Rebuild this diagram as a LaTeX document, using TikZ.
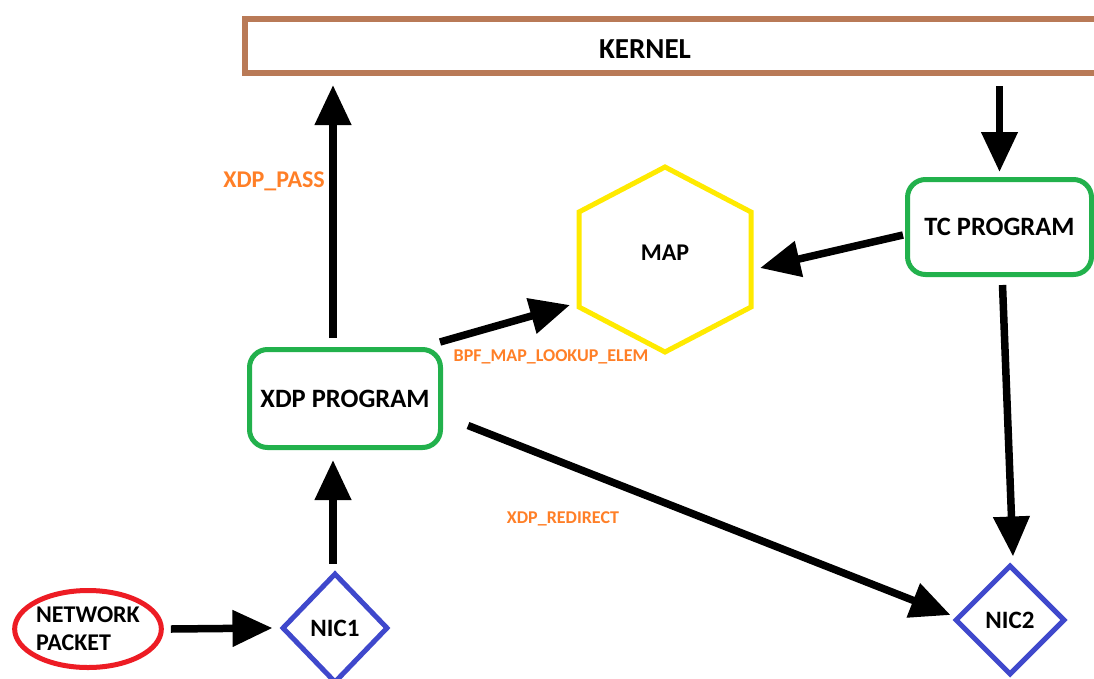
\documentclass[tikz,border=0pt]{standalone}
\usepackage{fontspec}
\setmainfont{Carlito}
\usetikzlibrary{arrows.meta,shapes.geometric,calc}

\definecolor{kbrown}{HTML}{B97A57}
\definecolor{pgreen}{HTML}{22B14C}
\definecolor{myellow}{HTML}{FFEA00}
\definecolor{nblue}{HTML}{3F48CC}
\definecolor{pred}{HTML}{ED1C24}
\definecolor{lorange}{HTML}{FF7F27}

\tikzset{
  boxtext/.style={font=\fontsize{24}{28}\selectfont\bfseries, text=black},
  bigtext/.style={font=\fontsize{26.5}{30}\selectfont\bfseries, text=black},
  kernelbox/.style={draw=kbrown, line width=6pt, rectangle, inner sep=0pt},
  progbox/.style={bigtext, draw=pgreen, line width=5pt, rectangle, rounded corners=18pt, inner sep=0pt},
  nicbox/.style={boxtext, font=\fontsize{25}{28}\selectfont\bfseries, draw=nblue, line width=5pt, diamond, inner sep=0pt},
  pktbox/.style={boxtext, draw=pred, line width=5pt, ellipse, inner sep=0pt, align=left},
  maptext/.style={boxtext},
  lbl/.style={font=\fontsize{18}{20}\selectfont\bfseries, text=lorange, inner sep=0pt},
  arr/.style={line width=7.5pt, -{Triangle[length=40pt,width=35pt]}},
}

\begin{document}
\begin{tikzpicture}[x=1pt,y=-1pt]
  \useasboundingbox (0,0) rectangle (1094,678);
  \fill[white] (0,0) rectangle (1094,678);

  % kernel bar running off the right edge
  \node[kernelbox, minimum width=855pt, minimum height=54pt] (kernel) at (672.5,46) {};
  \node[font=\fontsize{29}{32}\selectfont\bfseries, inner sep=0pt] (kernellabel) at (645,49) {KERNEL};

  % programs
  \node[progbox, minimum width=191pt, minimum height=98pt] (xdp) at (345,398.5) {XDP PROGRAM};
  \node[progbox, minimum width=184pt, minimum height=95pt] (tc) at (999.5,227) {TC PROGRAM};

  % map hexagon
  \coordinate (mapN)  at (665,167);
  \coordinate (mapNE) at (751,212);
  \coordinate (mapSE) at (751,307);
  \coordinate (mapS)  at (665,352);
  \coordinate (mapSW) at (579,307);
  \coordinate (mapNW) at (579,212);
  \draw[myellow, line width=5pt, line join=miter]
    (mapN) -- (mapNE) -- (mapSE) -- (mapS) -- (mapSW) -- (mapNW) -- cycle;
  \node[maptext, inner sep=0pt] (map) at (665,253) {MAP};

  % interfaces and packet source
  \node[nicbox, minimum width=106pt, minimum height=110pt] (nic1) at (335,628) {NIC1};
  \node[nicbox, minimum width=110pt, minimum height=110pt] (nic2) at (1010,620) {NIC2};
  \node[pktbox, minimum width=145pt, minimum height=77pt] (pkt) at (88,629) {NETWORK\\PACKET};

  % connectors
  \draw[arr] ($(pkt.east)+(7,0)$) -- ($(nic1.west)+(-7,0)$);
  \draw[arr] ($(nic1.north)+(-2,-7)$) -- ($(xdp.south)+(-12,10)$);
  \draw[arr] ($(xdp.north)+(-12,-9)$) -- ($(kernel.south -| xdp.north)+(-12,9)$);
  \draw[arr] ($(kernel.south -| tc.north)+(0,10)$) -- ($(tc.north)+(0,-5)$);
  \draw[arr] ($(tc.west)+(-2,8)$) -- ($(mapSE)+(9,-39)$);
  \draw[arr] ($(xdp.north east)+(-3,-5)$) -- ($(mapSW)+(-9,-2)$);
  \draw[arr] ($(tc.south)+(3,8)$) -- ($(nic2.north)+(3,-6)$);
  \draw[arr] ($(xdp.east)+(25,27)$) -- ($(nic2.west)+(-2,-5)$);

  % connector labels
  \node[lbl, font=\fontsize{24}{26}\selectfont\bfseries] (passlbl) at (274,181) {XDP\_PASS};
  \node[lbl] (lookuplbl) at (551,357) {BPF\_MAP\_LOOKUP\_ELEM};
  \node[lbl] (redirlbl) at (563,519) {XDP\_REDIRECT};
\end{tikzpicture}
\end{document}
